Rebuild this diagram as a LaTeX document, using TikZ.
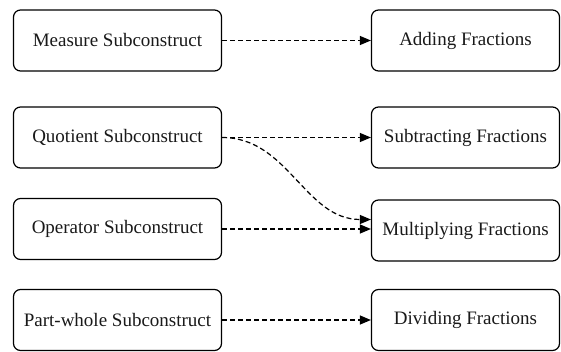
\documentclass[tikz,border=0pt]{standalone}
\usepackage{fontspec}
\setmainfont{Liberation Serif}
\usetikzlibrary{arrows.meta}

\begin{document}
\begin{tikzpicture}[x=1pt,y=1pt,
        box/.style={draw,line width=1.2pt,rounded corners=7pt,inner sep=2pt,
                    minimum height=61pt,text=black!90,font=\fontsize{19}{22}\selectfont},
        lbox/.style={box,minimum width=208pt},
        rbox/.style={box,minimum width=188pt},
        link/.style={line width=1.2pt,dash pattern=on 5pt off 3pt,
                     -{Triangle[length=11pt,width=9pt]}}]
        \useasboundingbox (0,0) rectangle (561,351);

        \node[lbox] (measure) at (117.5,310.5) {Measure Subconstruct};
        \node[lbox] (quotient) at (117.5,213.5) {Quotient Subconstruct};
        \node[lbox] (operator) at (117.5,122) {Operator Subconstruct};
        \node[lbox] (partwhole) at (117.5,31) {Part-whole Subconstruct};

        \node[rbox] (adding) at (465.5,310.5) {Adding Fractions};
        \node[rbox] (subtracting) at (465.5,213.5) {Subtracting Fractions};
        \node[rbox] (multiplying) at (465.5,120.5) {Multiplying Fractions};
        \node[rbox] (dividing) at (465.5,31) {Dividing Fractions};

        \draw[link] (measure.east) -- (adding.west);
        \draw[link] (quotient.east) -- (subtracting.west);
        \draw[link] (quotient.east) to[out=0,in=180] ([yshift=11pt]multiplying.west);
        \draw[link] (operator.east) -- (operator.east -| multiplying.west);
        \draw[link] (partwhole.east) -- (dividing.west);
\end{tikzpicture}
\end{document}
